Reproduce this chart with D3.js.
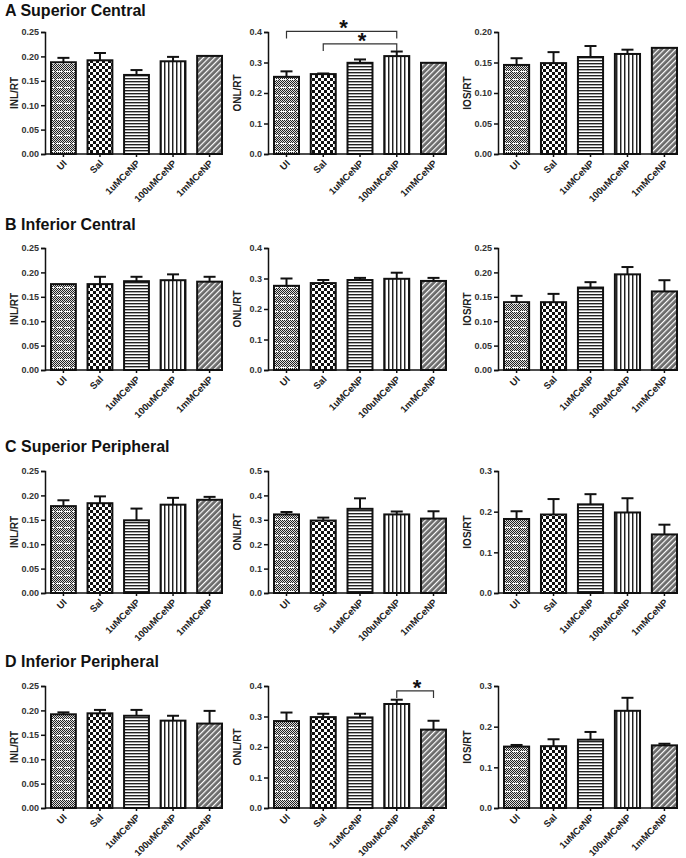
<!DOCTYPE html>
<html><head><meta charset="utf-8">
<script src="https://cdn.jsdelivr.net/npm/d3@7"></script>
<style>body{margin:0;background:#fff} text{font-family:Arial,"Liberation Sans",sans-serif}</style>
</head><body><svg id="c" width="686" height="858"></svg>
<script>
const categories = ["UI","Sal","1uMCeNP","100uMCeNP","1mMCeNP"];
const rowTitles = ["A Superior Central","B Inferior Central","C Superior Peripheral","D Inferior Peripheral"];
const yLabels = ["INL/RT","ONL/RT","IOS/RT"];

// A Superior Central
const aINL = [0.188,0.192,0.162,0.190,0.201], aINLerr = [0.009,0.015,0.010,0.009,0];
const aONL = [0.253,0.262,0.299,0.321,0.299], aONLerr = [0.018,0.002,0.011,0.015,0];
const aIOS = [0.146,0.149,0.159,0.164,0.174], aIOSerr = [0.011,0.018,0.018,0.007,0];
// B Inferior Central
const bINL = [0.176,0.176,0.182,0.184,0.181], bINLerr = [0,0.015,0.009,0.012,0.010];
const bONL = [0.276,0.285,0.295,0.299,0.292], bONLerr = [0.024,0.010,0.007,0.020,0.010];
const bIOS = [0.139,0.139,0.169,0.196,0.161], bIOSerr = [0.013,0.017,0.011,0.015,0.023];
// C Superior Peripheral
const cINL = [0.178,0.184,0.149,0.181,0.191], cINLerr = [0.012,0.014,0.024,0.014,0.006];
const cONL = [0.322,0.297,0.345,0.322,0.305], cONLerr = [0.010,0.012,0.043,0.012,0.030];
const cIOS = [0.182,0.193,0.218,0.198,0.144], cIOSerr = [0.019,0.038,0.025,0.035,0.024];
// D Inferior Peripheral
const dINL = [0.192,0.194,0.189,0.179,0.173], dINLerr = [0.004,0.007,0.012,0.010,0.026];
const dONL = [0.285,0.298,0.297,0.341,0.257], dONLerr = [0.028,0.011,0.012,0.014,0.029];
const dIOS = [0.151,0.152,0.168,0.239,0.154], dIOSerr = [0.004,0.017,0.019,0.032,0.004];

// axis maxima and tick steps [INL, ONL, IOS] per row
const yMax = [[0.25,0.4,0.20],[0.25,0.4,0.25],[0.25,0.5,0.3],[0.25,0.4,0.3]];
const yStep = [[0.05,0.1,0.05],[0.05,0.1,0.05],[0.05,0.1,0.1],[0.05,0.1,0.1]];

// significance brackets: [from, to, height]
const aONLsig = [["UI","100uMCeNP",0.402],["Sal","100uMCeNP",0.361]];
const dONLsig = [["100uMCeNP","1mMCeNP",0.384]];

const means = [[aINL,aONL,aIOS],[bINL,bONL,bIOS],[cINL,cONL,cIOS],[dINL,dONL,dIOS]];
const errs = [[aINLerr,aONLerr,aIOSerr],[bINLerr,bONLerr,bIOSerr],[cINLerr,cONLerr,cIOSerr],[dINLerr,dONLerr,dIOSerr]];
const sigs = [[null,aONLsig,null],[null,null,null],[null,null,null],[null,dONLsig,null]];

// layout
const rowTop = [32,248,471,686], plotH = 122, titleY = [16,230,452,667];
const axisX = [45,268,498], bandEnd = [222,446,677];

const svg = d3.select("#c");
const defs = svg.append("defs");
// fine checker (grey)
let p = defs.append("pattern").attr("id","fine").attr("width",2).attr("height",2).attr("patternUnits","userSpaceOnUse");
p.append("rect").attr("width",2).attr("height",2).attr("fill","#ddd");
p.append("rect").attr("width",1).attr("height",1).attr("fill","#222");
p.append("rect").attr("x",1).attr("y",1).attr("width",1).attr("height",1).attr("fill","#222");
// UI: fine grey with white dashed horizontal lines
p = defs.append("pattern").attr("id","pUI").attr("width",8).attr("height",8).attr("patternUnits","userSpaceOnUse");
p.append("rect").attr("width",8).attr("height",8).attr("fill","url(#fine)");
p.append("rect").attr("y",7).attr("width",6).attr("height",1).attr("fill","#fff");
// Sal: checkerboard
p = defs.append("pattern").attr("id","pSal").attr("width",6).attr("height",6).attr("patternUnits","userSpaceOnUse");
p.append("rect").attr("width",6).attr("height",6).attr("fill","#fff");
p.append("rect").attr("width",3).attr("height",3).attr("fill","#111");
p.append("rect").attr("x",3).attr("y",3).attr("width",3).attr("height",3).attr("fill","#111");
// 1uM: horizontal stripes
p = defs.append("pattern").attr("id","p1u").attr("width",4).attr("height",3).attr("patternUnits","userSpaceOnUse");
p.append("rect").attr("width",4).attr("height",3).attr("fill","#fff");
p.append("rect").attr("width",4).attr("height",1).attr("fill","#222");
p.append("rect").attr("y",1).attr("width",4).attr("height",1).attr("fill","#aaa");
// 100uM: vertical stripes
p = defs.append("pattern").attr("id","p100u").attr("width",4).attr("height",4).attr("patternUnits","userSpaceOnUse");
p.append("rect").attr("width",4).attr("height",4).attr("fill","#fff");
p.append("rect").attr("width",1).attr("height",4).attr("fill","#222");
p.append("rect").attr("x",1).attr("width",1).attr("height",4).attr("fill","#999");
// 1mM: grey with white diagonal lines
p = defs.append("pattern").attr("id","p1m").attr("width",4).attr("height",4).attr("patternUnits","userSpaceOnUse").attr("patternTransform","rotate(45)");
p.append("rect").attr("width",4).attr("height",4).attr("fill","#6a6a6a");
p.append("rect").attr("width",1.2).attr("height",4).attr("fill","#fff");
const fills = ["url(#pUI)","url(#pSal)","url(#p1u)","url(#p100u)","url(#p1m)"];

rowTitles.forEach((t,r)=>{
  svg.append("text").attr("x",5).attr("y",titleY[r]).attr("font-size",16).attr("font-weight","bold").attr("fill","#111").text(t);
  for(let c=0;c<3;c++){
    const y0 = rowTop[r], yb = y0+plotH;
    const y = d3.scaleLinear().domain([0,yMax[r][c]]).range([yb,y0]);
    const x = d3.scaleBand().domain(categories).range([axisX[c]+6,bandEnd[c]]).paddingInner(0.32).paddingOuter(0);
    const g = svg.append("g");
    const step = yStep[r][c];
    const ticks = d3.range(0, yMax[r][c]+step/2, step);
    const dec = step<0.1?2:1;
    const ya = d3.axisLeft(y).tickValues(ticks).tickFormat(d3.format("."+dec+"f")).tickSize(4).tickPadding(2);
    const yg = g.append("g").attr("transform",`translate(${axisX[c]},0)`).call(ya);
    yg.select(".domain").attr("stroke","#111").attr("stroke-width",1.5);
    yg.selectAll(".tick line").attr("stroke","#111").attr("stroke-width",1.5);
    yg.selectAll(".tick text").attr("font-size",9).attr("font-weight","bold").attr("fill","#333").attr("font-family","Arial, 'Liberation Sans', sans-serif");
    // y label
    g.append("text").attr("transform",`translate(${axisX[c]-27},${y0+plotH/2}) rotate(-90)`)
      .attr("text-anchor","middle").attr("font-size",10).attr("font-weight","bold").attr("fill","#222").text(yLabels[c]);
    // bars
    const m = means[r][c], e = errs[r][c];
    g.selectAll("rect.bar").data(categories).join("rect").attr("class","bar")
      .attr("x",d=>x(d)).attr("width",x.bandwidth())
      .attr("y",(d,i)=>y(m[i])).attr("height",(d,i)=>yb-y(m[i]))
      .attr("fill",(d,i)=>fills[i]).attr("stroke","#111").attr("stroke-width",2);
    // error bars
    categories.forEach((d,i)=>{
      if(e[i]<=0) return;
      const cx = x(d)+x.bandwidth()/2;
      g.append("line").attr("x1",cx).attr("x2",cx).attr("y1",y(m[i])).attr("y2",y(m[i]+e[i])).attr("stroke","#111").attr("stroke-width",2);
      g.append("line").attr("x1",cx-6).attr("x2",cx+6).attr("y1",y(m[i]+e[i])).attr("y2",y(m[i]+e[i])).attr("stroke","#111").attr("stroke-width",2);
    });
    // x axis
    const xa = d3.axisBottom(x).tickSize(3).tickFormat("");
    const xg = g.append("g").attr("transform",`translate(0,${yb})`).call(xa);
    xg.select(".domain").remove();
    xg.selectAll(".tick line").attr("stroke","#111").attr("stroke-width",1.5);
    g.append("line").attr("x1",axisX[c]).attr("x2",bandEnd[c]+1).attr("y1",yb).attr("y2",yb).attr("stroke","#111").attr("stroke-width",1.5);
    g.selectAll("text.xl").data(categories).join("text").attr("class","xl")
      .attr("transform",d=>`translate(${x(d)+x.bandwidth()/2+4},${yb+10}) rotate(-45)`)
      .attr("text-anchor","end").attr("font-size",9.5).attr("font-weight","bold").attr("fill","#222").text(d=>d);
    // significance
    const s = sigs[r][c];
    if(s){
      s.forEach(([a,b,h])=>{
        const xa1 = x(a)+x.bandwidth()/2, xb1 = x(b)+x.bandwidth()/2, yy = y(h);
        g.append("path").attr("d",`M${xa1},${yy+7}V${yy}H${xb1}V${yy+7}`).attr("fill","none").attr("stroke","#333").attr("stroke-width",1.2);
        g.append("text").attr("x",(xa1+xb1)/2+2).attr("y",yy+4).attr("text-anchor","middle").attr("font-size",22).attr("font-weight","bold").attr("fill","#111").text("*");
      });
    }
  }
});
</script></body></html>
